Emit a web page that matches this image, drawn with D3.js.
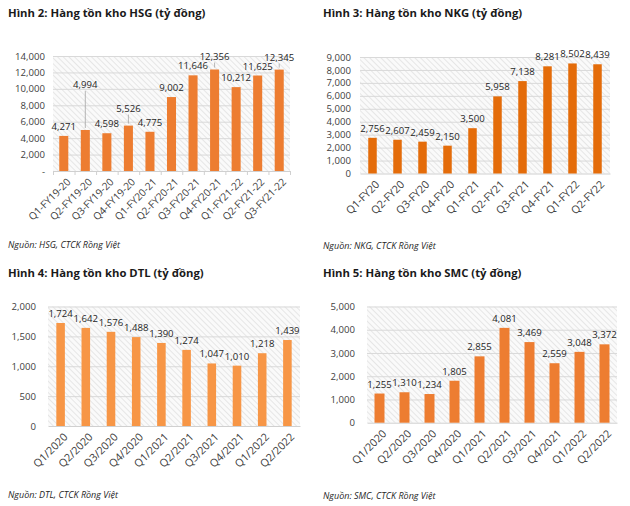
<!DOCTYPE html>
<html><head><meta charset="utf-8">
<script src="https://cdn.jsdelivr.net/npm/d3@7"></script>
<style>
body{margin:0;background:#fff;}
text{font-family:"Open Sans","Noto Sans",sans-serif;}
</style></head>
<body>
<svg id="c" width="630" height="506"></svg>
<script>
// ---- data ----
const hsgCategories = ["Q1-FY19-20","Q2-FY19-20","Q3-FY19-20","Q4-FY19-20","Q1-FY20-21","Q2-FY20-21","Q3-FY20-21","Q4-FY20-21","Q1-FY21-22","Q2-FY21-22","Q3-FY21-22"];
const hsgValues = [4271,4994,4598,5526,4775,9002,11646,12356,10212,11625,12345];
const hsgTicks = [0,2000,4000,6000,8000,10000,12000,14000];

const nkgCategories = ["Q1-FY20","Q2-FY20","Q3-FY20","Q4-FY20","Q1-FY21","Q2-FY21","Q3-FY21","Q4-FY21","Q1-FY22","Q2-FY22"];
const nkgValues = [2756,2607,2459,2150,3500,5958,7138,8281,8502,8439];
const nkgTicks = [0,1000,2000,3000,4000,5000,6000,7000,8000,9000];

const quarterCategories = ["Q1/2020","Q2/2020","Q3/2020","Q4/2020","Q1/2021","Q2/2021","Q3/2021","Q4/2021","Q1/2022","Q2/2022"];
const dtlValues = [1724,1642,1576,1488,1390,1274,1047,1010,1218,1439];
const dtlTicks = [0,500,1000,1500,2000];

const smcValues = [1255,1310,1234,1805,2855,4081,3469,2559,3048,3372];
const smcTicks = [0,1000,2000,3000,4000,5000];

const titles = ["Hình 2: Hàng tồn kho HSG (tỷ đồng)","Hình 3: Hàng tồn kho NKG (tỷ đồng)","Hình 4: Hàng tồn kho DTL (tỷ đồng)","Hình 5: Hàng tồn kho SMC (tỷ đồng)"];
const sources = ["Nguồn: HSG, CTCK Rồng Việt","Nguồn: NKG, CTCK Rồng Việt","Nguồn: DTL, CTCK Rồng Việt","Nguồn: SMC, CTCK Rồng Việt"];

// ---- layout (not data) ----
const hsgLabelLift = [0,36,0,8,0,0,0,4,0,0,3];
const fmt = d3.format(",");

const svg = d3.select("#c");
const defs = svg.append("defs");
const pat = defs.append("pattern").attr("id","hatch").attr("patternUnits","userSpaceOnUse")
  .attr("width",4).attr("height",4).attr("patternTransform","rotate(-45)");
pat.append("rect").attr("width",4).attr("height",4).attr("fill","#fafafa");
pat.append("line").attr("x1",0).attr("y1",0).attr("x2",0).attr("y2",4)
  .attr("stroke","#e1e1e1").attr("stroke-width",1.6);

function panel(o){
  const g = svg.append("g");
  g.append("text").attr("x",o.tx).attr("y",o.ty).text(o.title)
    .attr("font-weight","bold").attr("font-size",11.3).attr("fill","#1a1a1a");
  g.append("text").attr("x",o.tx).attr("y",o.sy).text(o.source)
    .attr("font-style","italic").attr("font-size",9).attr("fill","#262626");

  const x = d3.scaleBand().domain(o.cats).range([o.x0,o.x1]).paddingInner(o.pad).paddingOuter(o.pad/2);
  const y = d3.scaleLinear().domain([0,o.ymax]).range([o.y0,o.y1]);

  g.append("rect").attr("x",o.x0).attr("y",o.y1).attr("width",o.x1-o.x0).attr("height",o.y0-o.y1)
    .attr("fill","url(#hatch)");

  // gridlines
  g.append("g").selectAll("line").data(o.ticks.filter(t=>t>0)).join("line")
    .attr("x1",o.x0).attr("x2",o.x1).attr("y1",d=>y(d)+0.5).attr("y2",d=>y(d)+0.5)
    .attr("stroke","#d9d9d9").attr("stroke-width",1);

  // y axis
  const ya = g.append("g").attr("transform",`translate(${o.x0},0)`)
    .call(d3.axisLeft(y).tickValues(o.ticks).tickSize(0).tickPadding(o.ypad)
      .tickFormat(d=> (d===0 && o.zeroDash) ? "-" : fmt(d)));
  ya.select(".domain").remove();
  ya.selectAll("text").attr("font-size",9.6).attr("fill","#404040").attr("font-family","Open Sans, sans-serif");

  // x axis
  const xa = g.append("g").attr("transform",`translate(0,${o.y0})`)
    .call(d3.axisBottom(x).tickSize(0).tickFormat(""));
  xa.select(".domain").attr("stroke","#d0d0d0");
  if(o.boundaryTicks){
    const step = x.step();
    g.append("g").selectAll("line").data(d3.range(o.cats.length+1)).join("line")
      .attr("x1",i=>o.x0+i*step+0.5).attr("x2",i=>o.x0+i*step+0.5)
      .attr("y1",o.y0).attr("y2",o.y0+4).attr("stroke","#d0d0d0");
  }
  g.append("g").selectAll("text").data(o.cats).join("text")
    .attr("transform",d=>`translate(${x(d)+x.bandwidth()/2+5},${o.y0+9}) rotate(-45)`)
    .attr("text-anchor","end").attr("dy","0.35em")
    .attr("font-size",o.xfs).attr("fill","#404040").text(d=>d);

  // bars
  g.append("g").selectAll("rect").data(o.vals).join("rect")
    .attr("x",(d,i)=>x(o.cats[i])).attr("width",x.bandwidth())
    .attr("y",d=>y(d)).attr("height",d=>o.y0-y(d)).attr("fill",o.color);

  // labels
  const lift = o.lift || o.vals.map(()=>0);
  g.append("g").selectAll("text").data(o.vals).join("text")
    .attr("x",(d,i)=>x(o.cats[i])+x.bandwidth()/2)
    .attr("y",(d,i)=>y(d)-6-lift[i])
    .attr("text-anchor","middle").attr("font-size",9.6).attr("fill","#262626").text(d=>fmt(d));
  g.append("g").selectAll("line").data(o.vals.map((v,i)=>[v,i]).filter(p=>lift[p[1]]>2)).join("line")
    .attr("x1",p=>x(o.cats[p[1]])+x.bandwidth()/2).attr("x2",p=>x(o.cats[p[1]])+x.bandwidth()/2)
    .attr("y1",p=>y(p[0])-2).attr("y2",p=>y(p[0])-lift[p[1]]-3)
    .attr("stroke","#a6a6a6").attr("stroke-width",0.8);
}

panel({title:titles[0],source:sources[0],tx:8,ty:17,sy:248,cats:hsgCategories,vals:hsgValues,ticks:hsgTicks,
  ymax:14000,x0:53,x1:290,y0:171,y1:56,pad:0.58,ypad:8,color:"#ED7D31",zeroDash:true,boundaryTicks:true,lift:hsgLabelLift,xfs:10.2});
panel({title:titles[1],source:sources[1],tx:323,ty:17,sy:249,cats:nkgCategories,vals:nkgValues,ticks:nkgTicks,
  ymax:9000,x0:360,x1:610,y0:173.5,y1:57,pad:0.66,ypad:9,color:"#E46C0A",xfs:10.8});
panel({title:titles[2],source:sources[2],tx:8,ty:277,sy:498,cats:quarterCategories,vals:dtlValues,ticks:dtlTicks,
  ymax:2000,x0:48,x1:300,y0:426,y1:306.5,pad:0.66,ypad:12,color:"#F79646",xfs:10.8});
panel({title:titles[3],source:sources[3],tx:323,ty:277,sy:499,cats:quarterCategories,vals:smcValues,ticks:smcTicks,
  ymax:5000,x0:367,x1:617,y0:422.7,y1:306.5,pad:0.6,ypad:12,color:"#ED7D31",xfs:10.8});
</script>
</body></html>
